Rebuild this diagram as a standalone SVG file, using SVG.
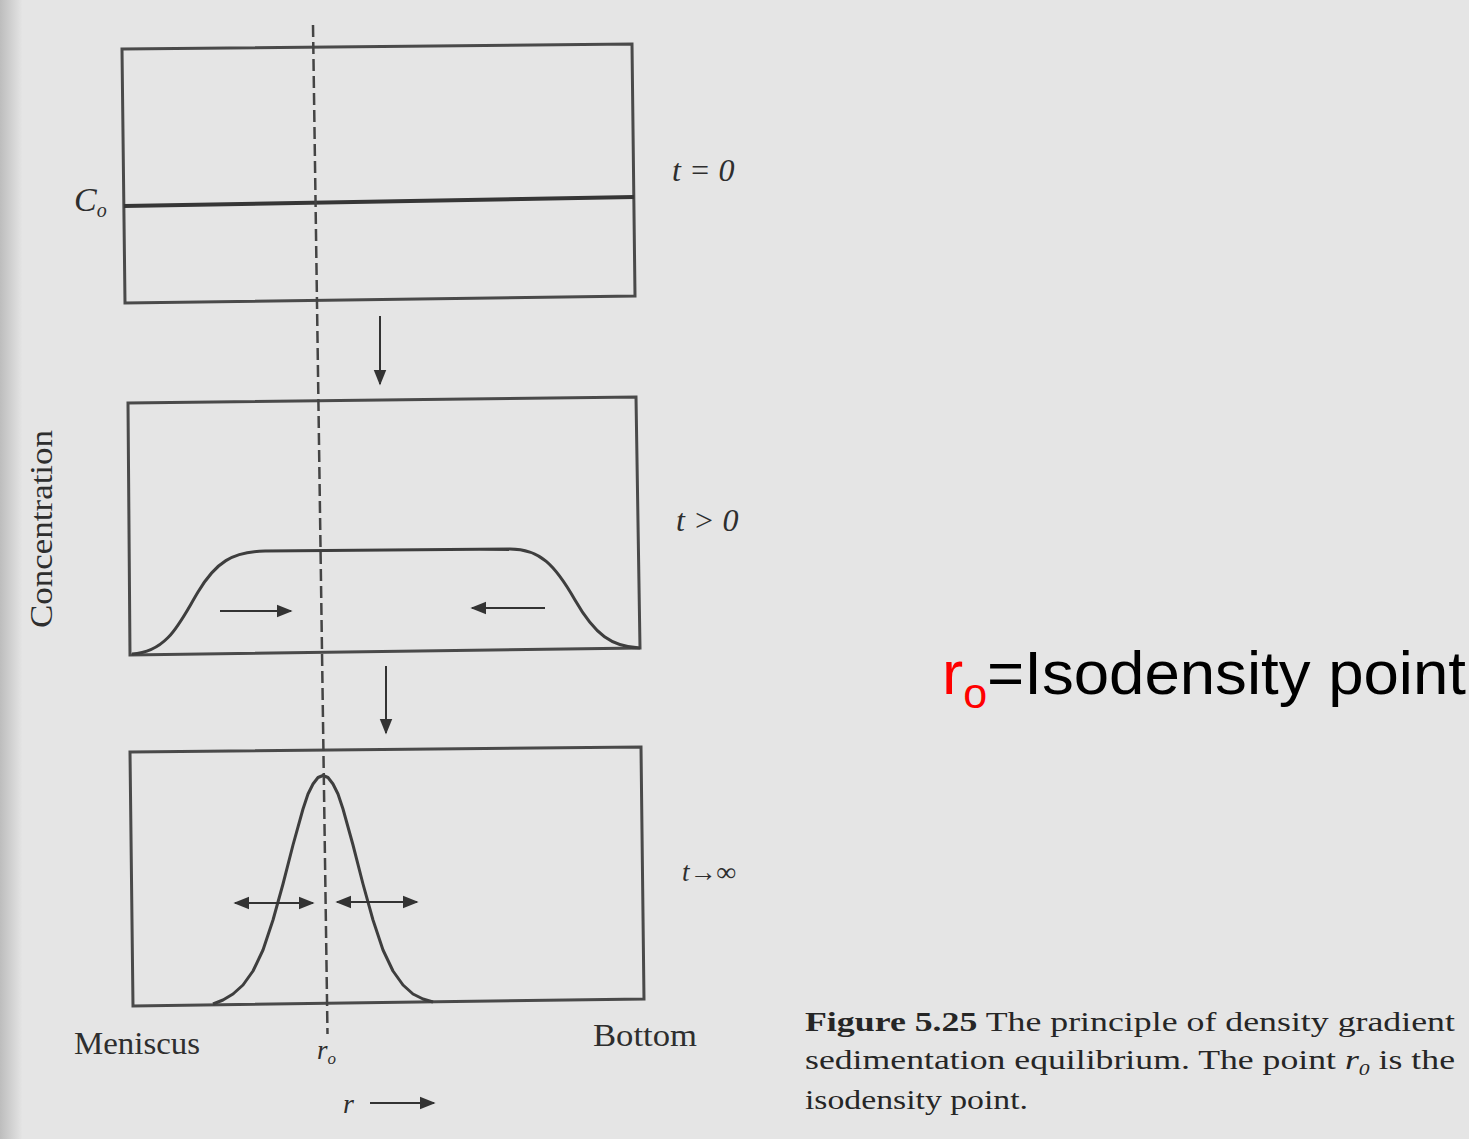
<svg xmlns="http://www.w3.org/2000/svg" width="1469" height="1139" viewBox="0 0 1469 1139">
<defs>
<linearGradient id="edge" x1="0" y1="0" x2="1" y2="0">
<stop offset="0" stop-color="#bdbdbd"/>
<stop offset="1" stop-color="#e4e4e4"/>
</linearGradient>
<marker id="ahs" viewBox="0 0 10 10" refX="9" refY="5" markerWidth="8" markerHeight="8" orient="auto-start-reverse" markerUnits="strokeWidth">
<path d="M0,1 L10,5 L0,9 Z" fill="#333"/>
</marker>
</defs>
<style>
.box{fill:none;stroke:#4a4a4a;stroke-width:3}
.curve{fill:none;stroke:#3e3e3e;stroke-width:3;stroke-linejoin:round}
.arr{stroke:#333;stroke-width:2}
.serif{font-family:"Liberation Serif","DejaVu Serif",serif;fill:#2e2e2e}
.cap{font-family:"Liberation Serif","DejaVu Serif",serif;fill:#262626;font-size:28px}
.sans{font-family:"Liberation Sans",Arial,sans-serif;font-size:62px}
</style>
<rect width="1469" height="1139" fill="#e5e5e5"/>
<rect x="0" y="0" width="22" height="1139" fill="url(#edge)"/>

<g id="panel-t0">
<polygon class="box" points="122,49 632,44 635,296 125,303"/>
<line x1="124" y1="206" x2="634" y2="197" stroke="#363636" stroke-width="4"/>
<text class="serif" x="74" y="211" font-size="34" font-style="italic">C<tspan font-size="20" dy="6">o</tspan></text>
<text class="serif" x="672" y="181" font-size="32" font-style="italic">t = 0</text>
</g>

<g id="panel-tpos">
<polygon class="box" points="128,403 636,397 640,648 130,655"/>
<path class="curve" d="M132,654 C168,652 180,622 198,592 C216,562 232,552 265,551 L510,549 C540,549 555,565 575,600 C595,635 612,647 640,648"/>
<text class="serif" x="676" y="531" font-size="32" font-style="italic">t &gt; 0</text>
</g>

<g id="panel-tinf">
<polygon class="box" points="130,752 641,747 644,999 133,1006"/>
<polyline class="curve" points="213,1004 223,1000 233,994 243,985 253,971 263,950 273,920 283,884 293,845 303,809 308,794 313,784 318,777.5 323,775.5 328,777.5 333,784 338,794 343,809 353,845 363,884 373,920 383,950 393,971 403,985 413,994 423,999 433,1002"/>
<text class="serif" x="682" y="881" font-size="27" font-style="italic">t→∞</text>
</g>

<g id="axis-labels">
<text class="serif" x="0" y="0" font-size="32" textLength="198" lengthAdjust="spacingAndGlyphs" transform="translate(52,529) rotate(-90)" text-anchor="middle">Concentration</text>
<text class="serif" x="74" y="1054" font-size="32" textLength="126" lengthAdjust="spacingAndGlyphs">Meniscus</text>
<text class="serif" x="593" y="1046" font-size="32" textLength="104" lengthAdjust="spacingAndGlyphs">Bottom</text>
<text class="serif" x="317" y="1059" font-size="27" font-style="italic">r<tspan font-size="17" dy="5">o</tspan></text>
<text class="serif" x="343" y="1113" font-size="28" font-style="italic">r</text>
</g>

<g id="caption">
<text class="cap" x="805" y="1031" textLength="650" lengthAdjust="spacingAndGlyphs"><tspan font-weight="bold">Figure 5.25</tspan>  The principle of density gradient</text>
<text class="cap" x="805" y="1069" textLength="650" lengthAdjust="spacingAndGlyphs">sedimentation equilibrium. The point <tspan font-style="italic">r</tspan><tspan font-style="italic" font-size="17" dy="6">0</tspan><tspan dy="-6"> is the</tspan></text>
<text class="cap" x="805" y="1109" textLength="223" lengthAdjust="spacingAndGlyphs">isodensity point.</text>
</g>

<g id="note">
<text class="sans" x="942" y="694" textLength="524" lengthAdjust="spacingAndGlyphs"><tspan fill="#ff0000">r</tspan><tspan fill="#ff0000" font-size="42" dy="14">o</tspan><tspan fill="#000" dy="-14">=Isodensity point</tspan></text>
</g>

<g id="connectors">
<line x1="313" y1="25" x2="327.5" y2="1034" stroke="#444" stroke-width="2.5" stroke-dasharray="12,5"/>
<line class="arr" x1="380" y1="316" x2="380" y2="384" marker-end="url(#ahs)"/>
<line class="arr" x1="386" y1="666" x2="386" y2="733" marker-end="url(#ahs)"/>
<line class="arr" x1="220" y1="611" x2="291" y2="611" marker-end="url(#ahs)"/>
<line class="arr" x1="545" y1="608" x2="472" y2="608" marker-end="url(#ahs)"/>
<line class="arr" x1="235" y1="903" x2="313" y2="903" marker-start="url(#ahs)" marker-end="url(#ahs)"/>
<line class="arr" x1="337" y1="902" x2="417" y2="902" marker-start="url(#ahs)" marker-end="url(#ahs)"/>
<line class="arr" x1="370" y1="1103" x2="434" y2="1103" marker-end="url(#ahs)"/>
</g>
</svg>
